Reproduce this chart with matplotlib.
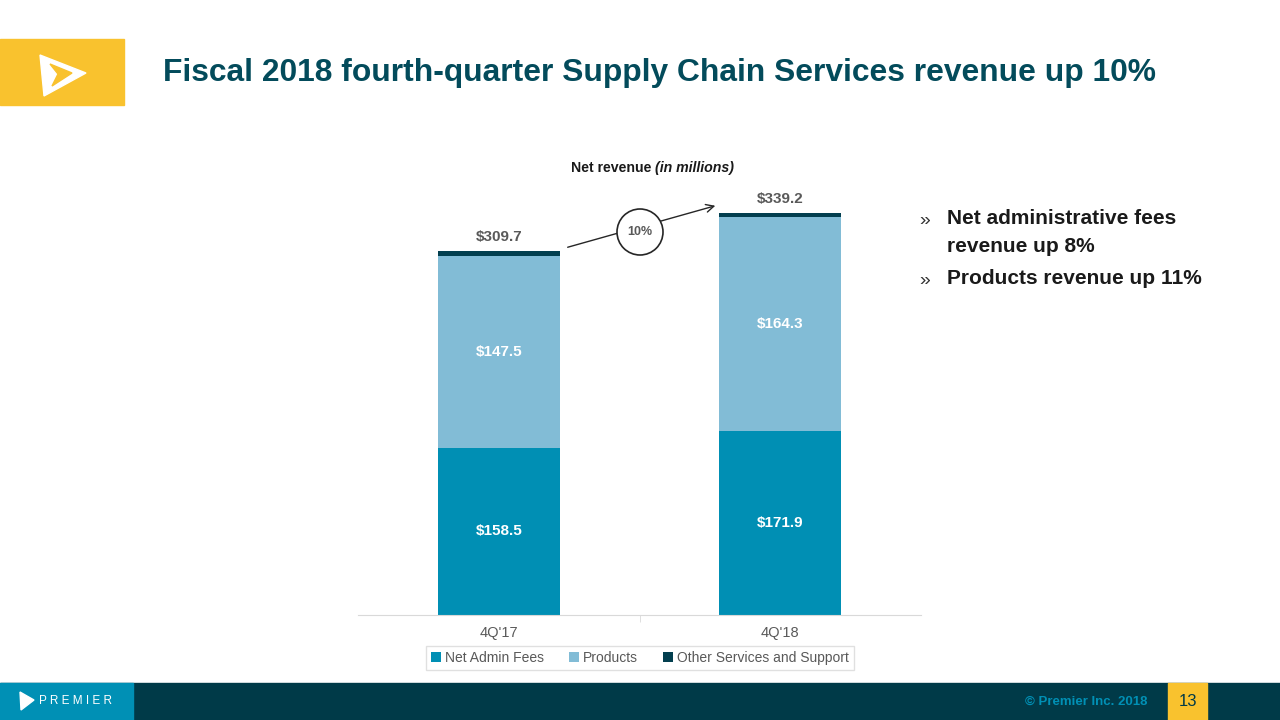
import matplotlib.pyplot as plt
from matplotlib.patches import Rectangle, Circle, Polygon

plt.rcParams['font.family'] = ['Liberation Sans', 'DejaVu Sans']

quarters = ["4Q'17", "4Q'18"]
net_admin = [158.5, 171.9]
products = [147.5, 164.3]
totals = [309.7, 339.2]
other = [round(t - a - p, 1) for t, a, p in zip(totals, net_admin, products)]
series_names = ['Net Admin Fees', 'Products', 'Other Services and Support']
growth_label = '10%'
bullets = ['Net administrative fees\nrevenue up 8%', 'Products revenue up 11%']

c_admin = '#008FB4'
c_prod = '#82BCD6'
c_other = '#033F4F'
c_title = '#034B5B'
c_yellow = '#F9C22E'
c_dark = '#003A48'
c_gray = '#595959'

fig = plt.figure(figsize=(12.8, 7.2), dpi=100)

# background / decoration layer in pixel coordinates
bg = fig.add_axes([0, 0, 1, 1], zorder=0)
bg.set_xlim(0, 1280)
bg.set_ylim(720, 0)
bg.axis('off')

# logo block
bg.add_patch(Rectangle((0, 39), 124, 66, color=c_yellow))
bg.add_patch(Polygon([(40, 55), (86, 73), (44, 96)], closed=True, color='white'))
bg.add_patch(Polygon([(50, 64), (72, 73), (52, 86), (58, 74)], closed=True, color=c_yellow))

bg.text(163, 73, 'Fiscal 2018 fourth-quarter Supply Chain Services revenue up 10%',
        fontsize=22.9, fontweight='bold', color=c_title, va='center', ha='left')

# footer
bg.add_patch(Rectangle((0, 683), 1280, 37, color=c_dark))
bg.add_patch(Rectangle((0, 683), 133, 37, color='#0090B5'))
bg.add_patch(Polygon([(20, 692), (34, 700), (21, 710)], closed=True, color='white'))
bg.text(39, 701, 'P R E M I E R', fontsize=8.5, color='white', va='center', ha='left')
bg.text(1147, 702, '\u00a9 Premier Inc. 2018', fontsize=9.5, fontweight='bold',
        color='#0090B5', va='center', ha='right')
bg.add_patch(Rectangle((1168, 683), 39, 37, color=c_yellow))
bg.text(1188, 702, '13', fontsize=12, color=c_dark, va='center', ha='center')

# chart title
bg.text(655, 168, 'Net revenue ', fontsize=10.2, fontweight='bold', color='#1a1a1a',
        ha='right', va='center')
bg.text(655, 168, '(in millions)', fontsize=10.2, fontweight='bold', style='italic',
        color='#1a1a1a', ha='left', va='center')

# growth arrow and circle
bg.annotate('', xy=(718, 205), xytext=(565, 248),
            arrowprops=dict(arrowstyle='->', color='#262626', lw=1, mutation_scale=14))
bg.add_patch(Circle((640, 232), 23, facecolor='white', edgecolor='#262626', lw=1.2, zorder=3))
bg.text(640, 232, growth_label, fontsize=9, fontweight='bold', color=c_gray,
        ha='center', va='center', zorder=4)

# bullets
bg.text(919, 220, '\u00bb', fontsize=14, color='#333333', va='center')
bg.text(947, 218, bullets[0].split('\n')[0], fontsize=15, fontweight='bold',
        color='#1a1a1a', va='center')
bg.text(947, 247, bullets[0].split('\n')[1], fontsize=15, fontweight='bold',
        color='#1a1a1a', va='center')
bg.text(919, 280, '\u00bb', fontsize=14, color='#333333', va='center')
bg.text(947, 278, bullets[1], fontsize=15, fontweight='bold', color='#1a1a1a', va='center')

# stacked bar chart
ax = fig.add_axes([358 / 1280, 105 / 720, 563 / 1280, 425 / 720], zorder=2)
ax.patch.set_alpha(0)
x = range(len(quarters))
w = 0.434
b1 = ax.bar(x, net_admin, w, bottom=0, color=c_admin, label=series_names[0])
b2 = ax.bar(x, products, w, bottom=net_admin, color=c_prod, label=series_names[1])
bot3 = [a + p for a, p in zip(net_admin, products)]
b3 = ax.bar(x, other, w, bottom=bot3, color=c_other, label=series_names[2])

ax.set_xlim(-0.5, 1.5)
ax.set_ylim(30, 357)

for i in x:
    ax.text(i, (30 + net_admin[i]) / 2, f'${net_admin[i]:.1f}', color='white',
            fontsize=11, fontweight='bold', ha='center', va='center')
    ax.text(i, net_admin[i] + products[i] / 2, f'${products[i]:.1f}', color='white',
            fontsize=11, fontweight='bold', ha='center', va='center')
    ax.text(i, totals[i] + 5.5, f'${totals[i]:.1f}', color=c_gray,
            fontsize=11, fontweight='bold', ha='center', va='bottom')

for s in ['top', 'right', 'left']:
    ax.spines[s].set_visible(False)
ax.spines['bottom'].set_color('#d9d9d9')
ax.set_yticks([])
ax.set_xticks(list(x))
ax.set_xticklabels(quarters, fontsize=10.5, color=c_gray)
ax.tick_params(axis='x', length=0, pad=8)
ax.set_xticks([0.5], minor=True)
ax.tick_params(axis='x', which='minor', length=5, color='#d9d9d9', direction='out')

fig.legend(handles=[b1, b2, b3], loc='center', bbox_to_anchor=(640 / 1280, 1 - 658 / 720),
           ncol=3, frameon=True, fancybox=False, edgecolor='#d9d9d9', fontsize=10,
           handlelength=0.7, handleheight=0.7, handletextpad=0.3, columnspacing=1.8,
           labelcolor=c_gray, borderpad=0.35)

fig.savefig('out.png', dpi=100)
